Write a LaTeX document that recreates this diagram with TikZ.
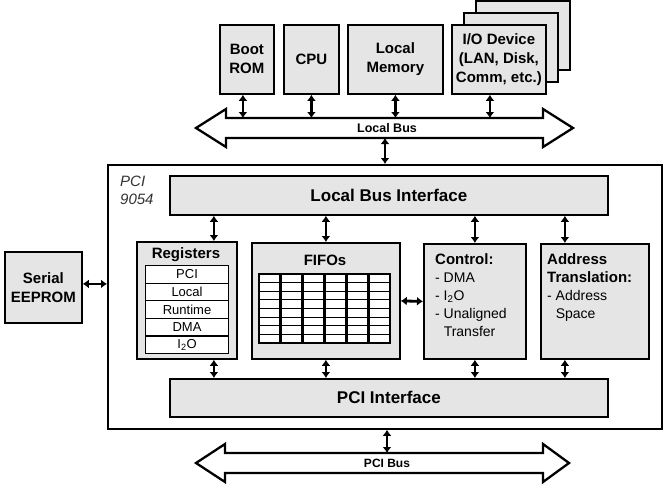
\documentclass[tikz,border=0pt]{standalone}
\usepackage{fontspec}
\setmainfont{Liberation Sans}
\usetikzlibrary{positioning,arrows.meta,shadows}
\tikzset{
  % --- blocks ---------------------------------------------------------------
  blk/.style={draw,line width=1.8pt,fill=black!10,inner sep=0pt,anchor=north west,
              align=center,font=\bfseries\fontsize{15}{19}\selectfont},
  sblk/.style={blk,drop shadow={shadow xshift=1.5pt,shadow yshift=-1.5pt,
               fill=black,opacity=1}},
  chipbox/.style={draw,line width=1.8pt,fill=white,inner sep=0pt,anchor=north west},
  regrow/.style={draw,line width=1.1pt,fill=white,inner sep=0pt,anchor=north west,
                 minimum width=83pt,minimum height=17.6pt,
                 font=\fontsize{13}{15}\selectfont},
  fifocol/.style={draw,line width=1.5pt,fill=white},
  fiforow/.style={line width=0.9pt},
  % --- text -----------------------------------------------------------------
  ttl/.style={inner sep=0pt,anchor=base,font=\bfseries\fontsize{15}{18}\selectfont},
  lst/.style={inner sep=0pt,anchor=north west,align=left,
              font=\fontsize{14}{18}\selectfont},
  buslab/.style={inner sep=0pt,font=\bfseries\fontsize{12.5}{14}\selectfont},
  % --- connectors -----------------------------------------------------------
  bidir/.style={{Latex[length=6pt,width=9pt]}-{Latex[length=6pt,width=9pt]},
                line width=2.8pt},
  bus/.style={draw,line width=2.3pt,fill=white,line join=miter},
}
\begin{document}
\begin{tikzpicture}[x=1pt,y=-1pt]
  \useasboundingbox (0,0) rectangle (667,488);

  % devices on the local side
  \node[blk,minimum width=54pt,minimum height=69pt] (bootrom) at (219,24) {Boot\\ROM};
  \node[blk,minimum width=55pt,minimum height=69pt] (cpu)     at (283,24) {CPU};
  \node[blk,minimum width=95pt,minimum height=69pt] (locmem)  at (347,24) {Local\\Memory};
  \node[blk,minimum width=94pt,minimum height=69pt] (iodev3)  at (475,0)  {};
  \node[blk,minimum width=94pt,minimum height=69pt] (iodev2)  at (463,12) {};
  \node[blk,minimum width=94pt,minimum height=69pt] (iodev)   at (451,24)
       {I/O Device\\(LAN, Disk,\\Comm, etc.)};

  % local bus
  \draw[bus] (196,128) -- (226,109) -- (226,118) -- (543,118) -- (543,109) -- (573,128)
        -- (543,147) -- (543,138) -- (226,138) -- (226,147) -- cycle;
  \node[buslab] (lbus) at (387,128.5) {Local Bus};
  \coordinate (lbtop) at (387,118);
  \coordinate (lbbot) at (385,138);

  \coordinate (brx) at ([xshift=-4pt]bootrom.south);
  \coordinate (iox) at ([xshift=-9pt]iodev.south);
  \draw[bidir] (brx) -- (brx |- lbtop);
  \draw[bidir] (cpu.south) -- (cpu.south |- lbtop);
  \draw[bidir] (locmem.south) -- (locmem.south |- lbtop);
  \draw[bidir] (iox) -- (iox |- lbtop);

  % the chip
  \node[chipbox,minimum width=554pt,minimum height=264pt] (chip) at (107,164) {};
  \node[inner sep=0pt,anchor=north west,align=left,text=black!80,
        font=\itshape\fontsize{15}{18}\selectfont] (chiplab) at (120,176) {PCI\\9054};
  \draw[bidir] (lbbot) -- (lbbot |- chip.north);

  \node[blk,minimum width=438pt,minimum height=39pt,
        font=\bfseries\fontsize{17}{20}\selectfont] (lbi) at (169,175) {Local Bus Interface};
  \node[sblk,minimum width=100pt,minimum height=117pt] (regs)  at (136,241) {};
  \node[sblk,minimum width=148pt,minimum height=116pt] (fifos) at (251,242) {};
  \node[sblk,minimum width=102pt,minimum height=115pt] (ctrl)  at (423,243) {};
  \node[sblk,minimum width=108pt,minimum height=115pt] (addr)  at (540,243) {};
  \node[sblk,minimum width=438pt,minimum height=38pt,
        font=\bfseries\fontsize{17}{20}\selectfont] (pcii) at (169,378) {PCI Interface};

  % registers
  \node[ttl] (regttl) at (186,258) {Registers};
  \foreach \lab [count=\i from 0] in {PCI,Local,Runtime,DMA,I\textsubscript{2}O}
    \node[regrow] (reg\i) at (145,{265+17.6*\i}) {\lab};

  % fifos
  \node[ttl] (fifottl) at (325,265) {FIFOs};
  \foreach \c in {0,...,5}{
    \draw[fifocol] ({259+22*\c},274) rectangle ++(21,69);
    \foreach \r in {1,...,7}
      \draw[fiforow] ({259+22*\c},{274+8.6*\r}) -- ++(21,0);
  }

  % control and address translation
  \node[lst] (ctrltxt) at (435,253)
       {\textbf{\fontsize{15}{18}\selectfont Control:}\\- DMA\\- I\textsubscript{2}O\\
        - Unaligned\\\phantom{- }Transfer};
  \node[lst] (addrtxt) at (547,253)
       {\textbf{\fontsize{15}{18}\selectfont Address}\\
        \textbf{\fontsize{15}{18}\selectfont Translation:}\\- Address\\\phantom{- }Space};

  % internal paths
  \coordinate (regsx) at ([xshift=27pt]regs.north);
  \coordinate (addrx) at ([xshift=-30pt]addr.north);
  \coordinate (regsy) at ([xshift=27pt]regs.south);
  \coordinate (addry) at ([xshift=-30pt]addr.south);
  \draw[bidir] (regsx) -- (regsx |- lbi.south);
  \draw[bidir] (fifos.north) -- (fifos.north |- lbi.south);
  \draw[bidir] (ctrl.north) -- (ctrl.north |- lbi.south);
  \draw[bidir] (addrx) -- (addrx |- lbi.south);
  \draw[bidir] (regsy) -- (regsy |- pcii.north);
  \draw[bidir] (fifos.south) -- (fifos.south |- pcii.north);
  \draw[bidir] (ctrl.south) -- (ctrl.south |- pcii.north);
  \draw[bidir] (addry) -- (addry |- pcii.north);
  \draw[bidir] (fifos.east) -- (ctrl.west);

  % serial eeprom
  \node[blk,minimum width=77pt,minimum height=71pt] (eeprom) at (4,251) {Serial\\EEPROM};
  \coordinate (eepx) at ([yshift=3.5pt]eeprom.east);
  \draw[bidir] (eepx) -- (eepx -| chip.west);

  % pci bus
  \draw[bus] (196,463) -- (225,444) -- (225,453) -- (543,453) -- (543,444) -- (569,463)
        -- (543,482) -- (543,473) -- (225,473) -- (225,482) -- cycle;
  \node[buslab,font=\bfseries\fontsize{12}{14}\selectfont] (pbus) at (387,463) {PCI Bus};
  \coordinate (pbtop) at (387,453);
  \draw[bidir] (pbtop |- chip.south) -- (pbtop);
\end{tikzpicture}
\end{document}
